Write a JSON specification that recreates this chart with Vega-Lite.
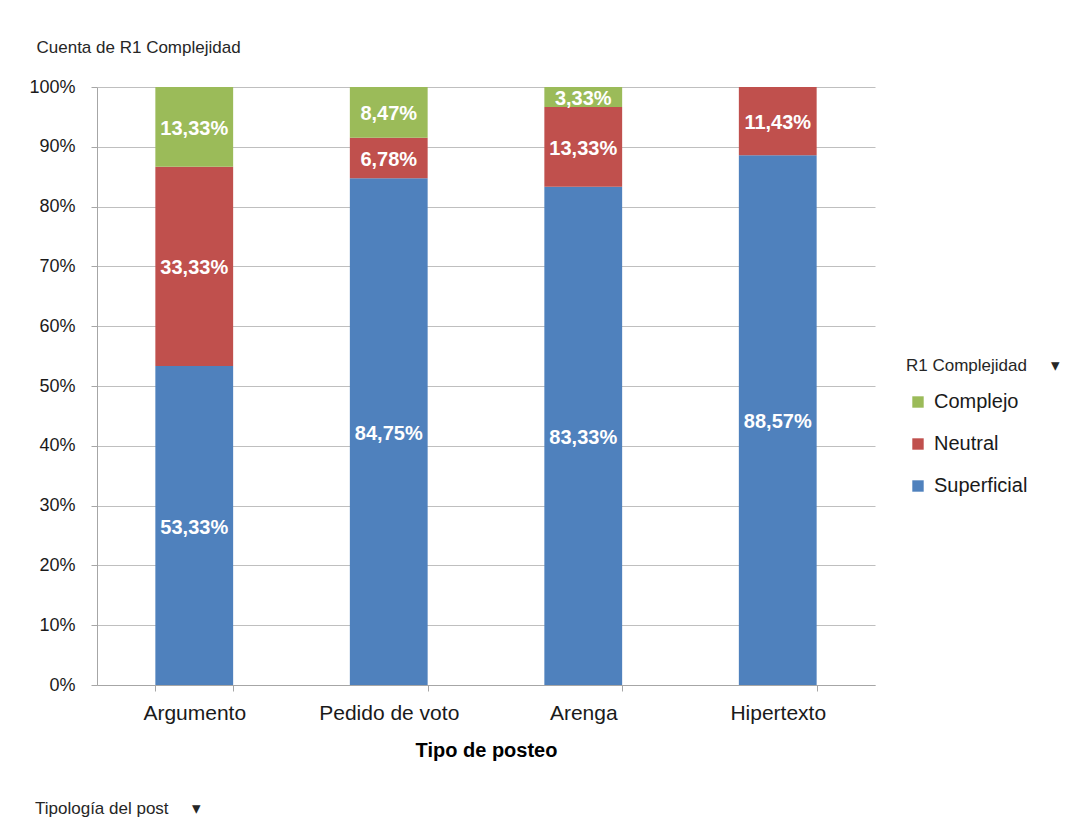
{
  "$schema": "https://vega.github.io/schema/vega-lite/v6.json",
  "width": 778,
  "height": 598,
  "autosize": {"type": "none"},
  "padding": {"left": 97, "top": 87, "right": 197, "bottom": 144},
  "background": "white",
  "config": {
    "font": "Liberation Sans",
    "locale": {
      "number": {"decimal": ",", "thousands": ".", "grouping": [3], "currency": ["", " €"]}
    },
    "view": {"stroke": null}
  },
  "title": {
    "text": "Tipología del post\u00a0\u00a0\u00a0\u00a0\u00a0▾",
    "orient": "bottom",
    "anchor": "start",
    "frame": "group",
    "dx": -62,
    "offset": 41,
    "fontSize": 17,
    "fontWeight": "normal",
    "color": "#262626"
  },
  "data": {
    "values": [
      {"tipo": "Argumento", "complejidad": "Superficial", "porcentaje": 0.5333},
      {"tipo": "Argumento", "complejidad": "Neutral", "porcentaje": 0.3333},
      {"tipo": "Argumento", "complejidad": "Complejo", "porcentaje": 0.1333},
      {"tipo": "Pedido de voto", "complejidad": "Superficial", "porcentaje": 0.8475},
      {"tipo": "Pedido de voto", "complejidad": "Neutral", "porcentaje": 0.0678},
      {"tipo": "Pedido de voto", "complejidad": "Complejo", "porcentaje": 0.0847},
      {"tipo": "Arenga", "complejidad": "Superficial", "porcentaje": 0.8333},
      {"tipo": "Arenga", "complejidad": "Neutral", "porcentaje": 0.1333},
      {"tipo": "Arenga", "complejidad": "Complejo", "porcentaje": 0.0333},
      {"tipo": "Hipertexto", "complejidad": "Superficial", "porcentaje": 0.8857},
      {"tipo": "Hipertexto", "complejidad": "Neutral", "porcentaje": 0.1143}
    ]
  },
  "encoding": {
    "x": {
      "field": "tipo",
      "type": "nominal",
      "sort": ["Argumento", "Pedido de voto", "Arenga", "Hipertexto"],
      "scale": {"paddingInner": 0.6, "paddingOuter": 0.3},
      "axis": {
        "title": "Tipo de posteo",
        "titleFontSize": 20,
        "titleFontWeight": "bold",
        "titleColor": "#000000",
        "titlePadding": 17,
        "labelAngle": 0,
        "labelFontSize": 21,
        "labelColor": "#1a1a1a",
        "labelPadding": 11,
        "tickBand": "extent",
        "tickSize": 6,
        "tickColor": "#A6A6A6",
        "domainColor": "#A6A6A6",
        "grid": false
      }
    }
  },
  "layer": [
    {
      "mark": {"type": "bar"},
      "encoding": {
        "y": {
          "field": "porcentaje",
          "type": "quantitative",
          "stack": "zero",
          "scale": {"domain": [0, 1]},
          "axis": {
            "values": [0, 0.1, 0.2, 0.3, 0.4, 0.5, 0.6, 0.7, 0.8, 0.9, 1],
            "format": ".0%",
            "title": "Cuenta de R1 Complejidad",
            "titleAngle": 0,
            "titleAlign": "left",
            "titleBaseline": "middle",
            "titleX": -61,
            "titleY": -40,
            "titleFontSize": 17,
            "titleFontWeight": "normal",
            "titleColor": "#262626",
            "labelFontSize": 18,
            "labelColor": "#1a1a1a",
            "labelPadding": 16,
            "tickSize": 6,
            "tickColor": "#A6A6A6",
            "domainColor": "#A6A6A6",
            "gridColor": "#BFBFBF"
          }
        },
        "color": {
          "field": "complejidad",
          "type": "nominal",
          "scale": {
            "domain": ["Complejo", "Neutral", "Superficial"],
            "range": ["#9BBB59", "#C0504D", "#4F81BD"]
          },
          "legend": {
            "title": "R1 Complejidad\u00a0\u00a0\u00a0\u00a0\u00a0▾",
            "orient": "none",
            "legendX": 809,
            "legendY": 271,
            "padding": 0,
            "titleFontSize": 17,
            "titleFontWeight": "normal",
            "titleColor": "#262626",
            "titlePadding": 17,
            "labelFontSize": 20,
            "labelColor": "#1a1a1a",
            "labelOffset": 6,
            "symbolType": "square",
            "symbolSize": 130,
            "symbolStrokeWidth": 0,
            "symbolOffset": 2,
            "rowPadding": 22
          }
        },
        "order": {"field": "complejidad", "sort": "descending"}
      }
    },
    {
      "mark": {"type": "text", "color": "white", "fontWeight": "bold", "fontSize": 20, "baseline": "middle", "dy": 2},
      "encoding": {
        "y": {"field": "porcentaje", "type": "quantitative", "stack": "zero", "bandPosition": 0.5},
        "detail": {"field": "complejidad"},
        "order": {"field": "complejidad", "sort": "descending"},
        "text": {"field": "porcentaje", "type": "quantitative", "format": ".2%"}
      }
    }
  ]
}
